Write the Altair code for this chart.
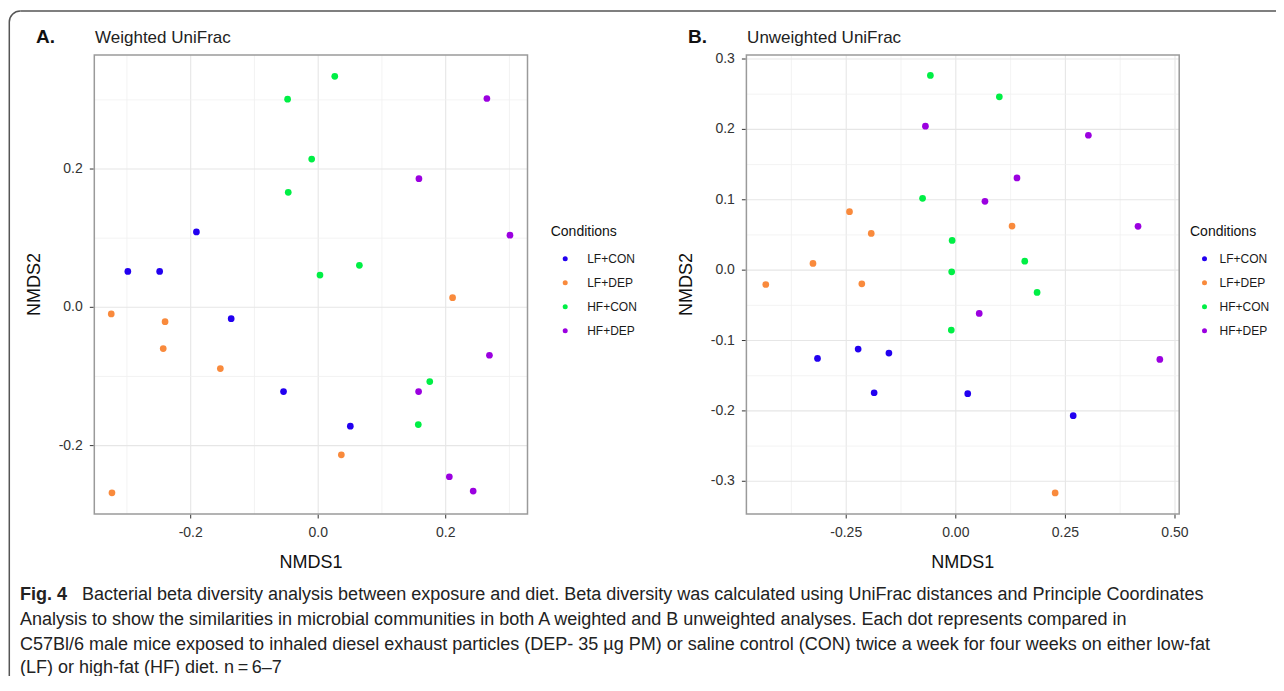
import altair as alt
import pandas as pd

conditions = ["LF+CON", "LF+DEP", "HF+CON", "HF+DEP"]
colors = ["#2200f0", "#f98a3c", "#00ef45", "#9b00e0"]

# Panel A: Weighted UniFrac (NMDS1, NMDS2)
a_lfcon_x = [-0.191, -0.2986, -0.2487, -0.1365, -0.0544, 0.0504]
a_lfcon_y = [0.1091, 0.0519, 0.0519, -0.0164, -0.1218, -0.1719]
a_lfdep_x = [-0.3246, -0.2402, -0.2431, -0.1535, 0.2108, 0.0363, -0.3235]
a_lfdep_y = [-0.0096, -0.0207, -0.0597, -0.0886, 0.014, -0.2133, -0.2682]
a_hfcon_x = [0.026, -0.048, -0.0102, -0.047, 0.0646, 0.0028, 0.175, 0.157]
a_hfcon_y = [0.334, 0.301, 0.2144, 0.1663, 0.0607, 0.0467, -0.1074, -0.1695]
a_hfdep_x = [0.2646, 0.158, 0.3008, 0.2686, 0.1575, 0.2057, 0.2431]
a_hfdep_y = [0.302, 0.186, 0.1043, -0.0693, -0.1218, -0.245, -0.2658]

# Panel B: Unweighted UniFrac
b_lfcon_x = [-0.3155, -0.2228, -0.1526, -0.1863, 0.0272, 0.2678]
b_lfcon_y = [-0.1254, -0.1122, -0.1178, -0.1742, -0.1756, -0.2068]
b_lfdep_x = [-0.2425, -0.1929, 0.1283, -0.3258, -0.4335, -0.2144, 0.2266]
b_lfdep_y = [0.0831, 0.0522, 0.0626, 0.0095, -0.0204, -0.0194, -0.3166]
b_hfcon_x = [-0.058, 0.0993, -0.0758, -0.0084, 0.1573, -0.0094, 0.1854, -0.0103]
b_hfcon_y = [0.2767, 0.2463, 0.102, 0.0422, 0.0128, -0.0024, -0.0317, -0.0852]
b_hfdep_x = [-0.0693, 0.3024, 0.1395, 0.0665, 0.4157, 0.0534, 0.4654]
b_hfdep_y = [0.2046, 0.1917, 0.131, 0.0978, 0.0622, -0.0615, -0.1268]

# axis ticks, tick labels, minor grid values, axis extents
a_ticks = [-0.2, 0.0, 0.2]
a_tick_labels = ["-0.2", "0.0", "0.2"]
a_minor_x = [-0.3, -0.1, 0.1, 0.3]
a_minor_y = [-0.1, 0.1, 0.3]
a_domain_x = [-0.3512, 0.3283]
a_domain_y = [-0.2989, 0.3649]

b_ticks_x = [-0.25, 0.0, 0.25, 0.5]
b_tick_labels_x = ["-0.25", "0.00", "0.25", "0.50"]
b_ticks_y = [-0.3, -0.2, -0.1, 0.0, 0.1, 0.2, 0.3]
b_tick_labels_y = ["-0.3", "-0.2", "-0.1", "0.0", "0.1", "0.2", "0.3"]
b_minor_x = [-0.375, -0.125, 0.125, 0.375]
b_minor_y = [-0.25, -0.15, -0.05, 0.05, 0.15, 0.25]
b_domain_x = [-0.4777, 0.5096]
b_domain_y = [-0.3465, 0.3057]

caption_lines = [
    "Bacterial beta diversity analysis between exposure and diet. Beta diversity was calculated using UniFrac distances and Principle Coordinates",
    "Analysis to show the similarities in microbial communities in both A weighted and B unweighted analyses. Each dot represents compared in",
    "C57Bl/6 male mice exposed to inhaled diesel exhaust particles (DEP- 35 \u00b5g PM) or saline control (CON) twice a week for four weeks on either low-fat",
    "(LF) or high-fat (HF) diet. n\u2009=\u20096\u20137",
]

FONT = "Liberation Sans"
TOTAL_W, TOTAL_H = 1268, 668
PLOT_TOP, PLOT_BOTTOM = 47, 506
GRID_MAJOR = "#e6e6e6"
GRID_MINOR = "#f0f0f0"
PANEL_STROKE = "#9a9a9a"
TICK_COL = "#333333"
BORDER = "#555555"


def frame(groups):
    rows = []
    for cond, xs, ys in groups:
        for x, y in zip(xs, ys):
            rows.append({"x": x, "y": y, "Conditions": cond})
    return pd.DataFrame(rows)


one = pd.DataFrame({"t": [0]})


def text(s, x, y, size, weight="normal", align="left", baseline="alphabetic", color="#111111",
         angle=0):
    kw = dict(text=s, font=FONT, fontSize=size, fontWeight=weight, align=align,
              baseline=baseline, color=color)
    if angle:
        kw["angle"] = angle
    return alt.Chart(one).mark_text(**kw).encode(x=alt.value(x), y=alt.value(y))


def panel(df, left, right, dom_x, dom_y, tx, txl, ty, tyl, mx, my, letter, title, legend_x,
          label_offset):
    xs = alt.Scale(domain=dom_x, range=[left, right], nice=False, zero=False)
    ys = alt.Scale(domain=dom_y, range=[PLOT_BOTTOM, PLOT_TOP], nice=False, zero=False)

    def X(f):
        return alt.X(f, scale=xs, axis=None)

    def Y(f):
        return alt.Y(f, scale=ys, axis=None)

    layers = []
    for vals, col, w in [(mx, GRID_MINOR, 0.8), (tx, GRID_MAJOR, 1.1)]:
        d = pd.DataFrame({"v": vals, "lo": dom_y[0], "hi": dom_y[1]})
        layers.append(alt.Chart(d).mark_rule(color=col, strokeWidth=w).encode(
            x=X("v:Q"), y=Y("lo:Q"), y2="hi:Q"))
    for vals, col, w in [(my, GRID_MINOR, 0.8), (ty, GRID_MAJOR, 1.1)]:
        d = pd.DataFrame({"v": vals, "lo": dom_x[0], "hi": dom_x[1]})
        layers.append(alt.Chart(d).mark_rule(color=col, strokeWidth=w).encode(
            y=Y("v:Q"), x=X("lo:Q"), x2="hi:Q"))
    box = pd.DataFrame({"x0": [dom_x[0]], "x1": [dom_x[1]], "y0": [dom_y[0]], "y1": [dom_y[1]]})
    layers.append(alt.Chart(box).mark_rect(fillOpacity=0, stroke=PANEL_STROKE, strokeWidth=1.5).encode(
        x=X("x0:Q"), x2="x1:Q", y=Y("y0:Q"), y2="y1:Q"))
    # ticks
    dtx = pd.DataFrame({"v": tx, "lab": txl})
    dty = pd.DataFrame({"v": ty, "lab": tyl})
    layers.append(alt.Chart(dtx).mark_rule(color=TICK_COL, strokeWidth=1).encode(
        x=X("v:Q"), y=alt.value(PLOT_BOTTOM + 0.75), y2=alt.value(PLOT_BOTTOM + 4.5)))
    layers.append(alt.Chart(dty).mark_rule(color=TICK_COL, strokeWidth=1).encode(
        y=Y("v:Q"), x=alt.value(left - 4.5), x2=alt.value(left - 0.75)))
    layers.append(alt.Chart(dtx).mark_text(font=FONT, fontSize=14, color=TICK_COL,
                                           align="center", baseline="middle").encode(
        x=X("v:Q"), y=alt.value(525.2), text="lab:N"))
    layers.append(alt.Chart(dty).mark_text(font=FONT, fontSize=14, color=TICK_COL,
                                           align="right", baseline="middle").encode(
        y=Y("v:Q"), x=alt.value(left - 11.5), text="lab:N"))
    # points
    layers.append(alt.Chart(df).mark_circle(size=45, opacity=1).encode(
        x=X("x:Q"), y=Y("y:Q"),
        color=alt.Color("Conditions:N",
                        scale=alt.Scale(domain=conditions, range=colors),
                        legend=alt.Legend(orient="none", legendX=legend_x, legendY=216.7,
                                          title="Conditions", labelOffset=label_offset)),
    ))
    # axis titles, panel titles
    cx = (left + right) / 2
    layers.append(text("NMDS1", cx, 554.7, 18, align="center", baseline="middle"))
    layers.append(text("NMDS2", left - 59, (PLOT_TOP + PLOT_BOTTOM) / 2, 18, align="center",
                       baseline="middle", angle=270))
    layers.append(text(letter, left - 58.3, 35, 19, weight="bold"))
    layers.append(text(title, left + 0.7, 35, 17, color="#222222"))
    return layers


df_a = frame([("LF+CON", a_lfcon_x, a_lfcon_y), ("LF+DEP", a_lfdep_x, a_lfdep_y),
              ("HF+CON", a_hfcon_x, a_hfcon_y), ("HF+DEP", a_hfdep_x, a_hfdep_y)])
df_b = frame([("LF+CON", b_lfcon_x, b_lfcon_y), ("LF+DEP", b_lfdep_x, b_lfdep_y),
              ("HF+CON", b_hfcon_x, b_hfcon_y), ("HF+DEP", b_hfdep_x, b_hfdep_y)])

layers = []
layers += panel(df_a, 86.3, 519.5, a_domain_x, a_domain_y, a_ticks, a_tick_labels, a_ticks,
                a_tick_labels, a_minor_x, a_minor_y, "A.", "Weighted UniFrac", 542.7, 16)
layers += panel(df_b, 738.4, 1171.2, b_domain_x, b_domain_y, b_ticks_x, b_tick_labels_x,
                b_ticks_y, b_tick_labels_y, b_minor_x, b_minor_y, "B.", "Unweighted UniFrac",
                1182, 9)

# figure frame (rounded top-left corner)
layers.append(alt.Chart(one).mark_rule(color=BORDER, strokeWidth=1.5).encode(
    x=alt.value(1.3), y=alt.value(14), y2=alt.value(TOTAL_H)))
layers.append(alt.Chart(one).mark_rule(color=BORDER, strokeWidth=1.5).encode(
    x=alt.value(12.3), x2=alt.value(TOTAL_W), y=alt.value(3)))
layers.append(alt.Chart(one).mark_arc(radius=11.75, radius2=10.25, theta=4.7124, theta2=6.2832,
                                      color=BORDER).encode(x=alt.value(12.3), y=alt.value(14)))

# caption
cap_y = [587, 612, 637, 660]
layers.append(text("Fig. 4", 12, cap_y[0], 18, weight="bold", baseline="middle", color="#222222"))
for i, line in enumerate(caption_lines):
    layers.append(text(line, 74 if i == 0 else 12, cap_y[i], 18, baseline="middle",
                       color="#222222"))

chart = alt.layer(*layers).resolve_scale(
    x="independent", y="independent", color="independent"
).resolve_legend(color="independent").properties(
    width=TOTAL_W, height=TOTAL_H, padding=0,
    autosize=alt.AutoSizeParams(type="none"),
).configure(background="white").configure_view(stroke=None).configure_legend(
    titleFont=FONT, labelFont=FONT, titleFontSize=14, titleFontWeight="normal",
    titleColor="#111111", labelFontSize=12, labelColor="#1a1a1a", symbolSize=25,
    symbolStrokeWidth=0, symbolOffset=8.5, rowPadding=12,
    titlePadding=14, padding=0, symbolType="circle",
)

chart.save("out.html", embed_options={"renderer": "svg", "actions": False})
